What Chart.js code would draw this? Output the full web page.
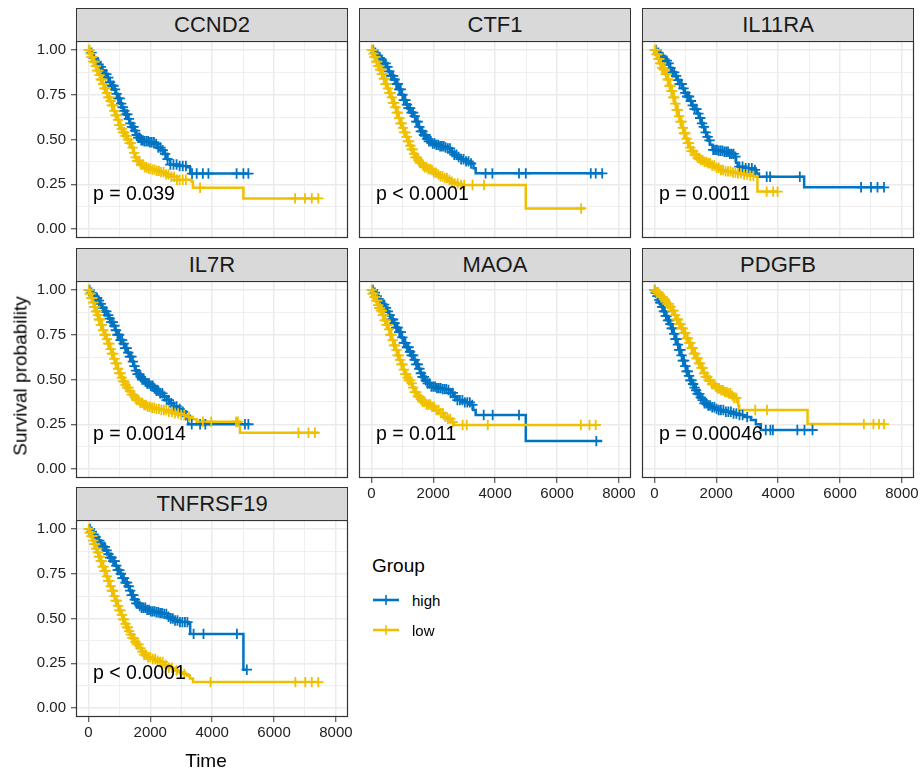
<!DOCTYPE html>
<html>
<head>
<meta charset="utf-8">
<script src="https://cdn.jsdelivr.net/npm/chart.js@4.4.0/dist/chart.umd.min.js"></script>
<style>
  body { margin: 0; background: #fff; font-family: "Liberation Sans", Arial, sans-serif; }
  #wrap { position: relative; width: 921px; height: 773px; overflow: hidden; }
  #wrap canvas { position: absolute; }
  .strip { position: absolute; box-sizing: border-box; width: 272px; height: 34px; border: 1px solid #333;
           background: #D9D9D9; color: #1A1A1A; font-size: 22px; text-align: center; line-height: 32px; }
  .lbl { position: absolute; color: #000; white-space: nowrap; }
</style>
</head>
<body>
<div id="wrap"></div>
<script>
// facet order and log-rank p values
const genes = ['CCND2', 'CTF1', 'IL11RA', 'IL7R', 'MAOA', 'PDGFB', 'TNFRSF19'];
const pValues = ['p = 0.039', 'p < 0.0001', 'p = 0.0011', 'p = 0.0014', 'p = 0.011', 'p = 0.00046', 'p < 0.0001'];

const xMajorTicks = [0, 2000, 4000, 6000, 8000];
const xMinorTicks = [1000, 3000, 5000, 7000];
const yMajorTicks = [0, 0.25, 0.5, 0.75, 1];
const yMinorTicks = [0.125, 0.375, 0.625, 0.875];

// KM curves: [time, survival]
const ccnd2High = [[0,1],[60,0.985],[120,0.97],[180,0.955],[250,0.935],[320,0.92],[380,0.905],[450,0.885],[520,0.865],[600,0.845],[680,0.82],[750,0.80],[820,0.78],[880,0.755],[950,0.73],[1020,0.70],[1080,0.68],[1140,0.66],[1200,0.64],[1270,0.615],[1340,0.59],[1400,0.57],[1470,0.55],[1540,0.525],[1610,0.51],[1680,0.495],[1800,0.49],[1950,0.485],[2150,0.475],[2250,0.455],[2350,0.44],[2430,0.42],[2550,0.39],[2640,0.36],[2900,0.352],[3180,0.345],[3290,0.31],[5170,0.31]];
const ccnd2Low = [[0,1],[50,0.98],[100,0.96],[160,0.935],[220,0.91],[280,0.885],[340,0.86],[400,0.835],[460,0.81],[520,0.785],[580,0.76],[640,0.735],[700,0.715],[760,0.69],[820,0.66],[880,0.635],[940,0.61],[1000,0.58],[1060,0.56],[1120,0.54],[1180,0.52],[1250,0.5],[1320,0.48],[1400,0.455],[1460,0.425],[1510,0.40],[1580,0.38],[1660,0.36],[1780,0.345],[1900,0.338],[2050,0.332],[2200,0.325],[2320,0.318],[2450,0.305],[2640,0.292],[2860,0.275],[3340,0.264],[3380,0.231],[5010,0.171],[7430,0.171]];
const ccnd2HighCensor = [100,180,260,330,400,460,520,580,640,700,760,810,860,910,960,1010,1060,1110,1160,1210,1260,1310,1360,1410,1460,1510,1560,1610,1660,1710,1760,1810,1870,1930,1990,2050,2120,2190,2260,2330,2400,2480,2560,2650,2750,2850,2950,3050,3150,3350,3500,3700,3880,4790,5010,5170];
const ccnd2LowCensor = [10,40,70,100,130,160,200,240,280,320,360,400,440,480,520,560,600,640,680,720,760,800,840,880,920,960,1000,1040,1080,1120,1160,1200,1240,1280,1330,1380,1430,1480,1530,1580,1640,1700,1760,1820,1880,1940,2000,2070,2140,2210,2280,2350,2430,2510,2590,2680,2770,2860,2950,3050,3150,3610,6680,7000,7220,7430];

const ctf1High = [[0,1],[80,0.985],[160,0.97],[240,0.955],[320,0.94],[400,0.925],[480,0.905],[560,0.88],[640,0.855],[720,0.835],[800,0.81],[880,0.78],[960,0.75],[1040,0.72],[1120,0.695],[1200,0.675],[1280,0.65],[1360,0.63],[1440,0.6],[1520,0.57],[1600,0.545],[1680,0.525],[1760,0.505],[1850,0.49],[1930,0.478],[2050,0.47],[2200,0.462],[2350,0.455],[2460,0.45],[2560,0.43],[2680,0.415],[2780,0.402],[2900,0.39],[3050,0.378],[3210,0.366],[3300,0.34],[3370,0.311],[7460,0.311]];
const ctf1Low = [[0,1],[50,0.98],[100,0.96],[160,0.935],[220,0.91],[280,0.89],[340,0.865],[400,0.84],[460,0.81],[520,0.785],[580,0.76],[640,0.735],[700,0.705],[760,0.68],[820,0.65],[880,0.62],[940,0.59],[1000,0.565],[1060,0.54],[1120,0.515],[1180,0.49],[1240,0.465],[1300,0.445],[1360,0.42],[1420,0.4],[1490,0.385],[1560,0.37],[1640,0.355],[1720,0.345],[1820,0.335],[1920,0.33],[2020,0.315],[2120,0.305],[2230,0.295],[2340,0.285],[2460,0.274],[2560,0.265],[2670,0.255],[2800,0.246],[4990,0.115],[6900,0.115]];
const ctf1HighCensor = [60,130,200,270,340,400,460,520,580,640,700,750,800,850,900,950,1000,1050,1100,1150,1200,1250,1300,1350,1400,1450,1500,1550,1600,1650,1700,1750,1800,1860,1920,1980,2040,2100,2160,2220,2280,2340,2400,2470,2540,2610,2680,2750,2820,2900,2980,3060,3140,3220,3690,3910,4770,4990,7090,7250,7460];
const ctf1LowCensor = [10,40,70,100,130,160,190,220,250,280,310,340,370,400,430,460,500,540,580,620,660,700,740,780,820,860,900,940,980,1020,1060,1100,1140,1180,1220,1260,1300,1340,1380,1420,1470,1520,1570,1620,1670,1720,1780,1840,1900,1960,2020,2090,2160,2230,2300,2370,2440,2520,2600,2690,2790,2900,3000,3270,3640,6780];

const il11raHigh = [[0,1],[80,0.985],[160,0.97],[250,0.955],[330,0.94],[420,0.925],[500,0.9],[580,0.875],[660,0.855],[740,0.832],[820,0.81],[900,0.785],[980,0.76],[1060,0.74],[1140,0.715],[1220,0.69],[1300,0.67],[1390,0.645],[1450,0.62],[1510,0.59],[1560,0.57],[1620,0.54],[1680,0.515],[1730,0.495],[1800,0.47],[1880,0.442],[2050,0.437],[2250,0.432],[2420,0.42],[2580,0.404],[2640,0.37],[2690,0.348],[2950,0.34],[3220,0.33],[3300,0.31],[3380,0.292],[4840,0.233],[7420,0.233]];
const il11raLow = [[0,1],[50,0.975],[110,0.95],[170,0.925],[230,0.9],[300,0.89],[360,0.865],[420,0.835],[480,0.8],[540,0.77],[600,0.735],[660,0.7],[720,0.665],[780,0.63],[840,0.6],[900,0.565],[960,0.535],[1020,0.505],[1080,0.48],[1140,0.455],[1200,0.435],[1280,0.415],[1380,0.397],[1480,0.385],[1600,0.375],[1720,0.367],[1850,0.355],[2000,0.342],[2140,0.33],[2300,0.322],[2500,0.316],[2680,0.311],[2900,0.304],[3100,0.297],[3270,0.292],[3330,0.209],[3980,0.209]];
const il11raHighCensor = [60,130,200,270,340,400,460,520,580,640,700,760,820,880,940,1000,1060,1120,1180,1240,1300,1360,1420,1480,1540,1600,1660,1720,1780,1900,1960,2020,2080,2140,2200,2260,2320,2380,2440,2500,2560,2620,2750,2850,2950,3050,3150,3250,3630,3740,4700,6680,7000,7210,7420];
const il11raLowCensor = [10,40,70,100,130,160,190,220,250,280,310,340,370,400,430,460,490,520,550,580,610,640,680,720,760,800,840,880,920,960,1000,1040,1080,1120,1160,1200,1250,1300,1350,1400,1450,1500,1560,1620,1680,1740,1800,1870,1940,2010,2080,2150,2220,2300,2380,2460,2540,2620,2700,2800,2900,3000,3100,3200,3630,3840,3980];

const il7rHigh = [[0,1],[70,0.985],[140,0.97],[220,0.955],[300,0.94],[380,0.922],[450,0.9],[520,0.88],[590,0.86],[660,0.84],[730,0.82],[800,0.8],[870,0.775],[940,0.75],[1020,0.72],[1100,0.7],[1180,0.675],[1260,0.65],[1340,0.628],[1400,0.6],[1460,0.575],[1520,0.55],[1580,0.53],[1660,0.515],[1740,0.5],[1820,0.488],[1900,0.478],[2000,0.465],[2100,0.45],[2200,0.437],[2320,0.423],[2420,0.405],[2530,0.385],[2640,0.367],[2760,0.35],[2880,0.335],[3020,0.32],[3130,0.3],[3230,0.25],[5170,0.25]];
const il7rLow = [[0,1],[40,0.98],[90,0.955],[140,0.93],[190,0.905],[240,0.88],[290,0.86],[340,0.835],[400,0.805],[460,0.775],[520,0.75],[580,0.725],[640,0.7],[700,0.67],[760,0.645],[820,0.615],[880,0.59],[940,0.56],[1000,0.535],[1060,0.51],[1120,0.49],[1180,0.47],[1240,0.455],[1320,0.435],[1400,0.415],[1480,0.4],[1560,0.385],[1660,0.37],[1760,0.358],[1880,0.348],[2020,0.342],[2170,0.336],[2320,0.33],[2530,0.32],[2750,0.311],[2960,0.302],[3180,0.292],[3330,0.278],[3500,0.264],[4900,0.203],[7430,0.203]];
const il7rHighCensor = [40,100,160,220,280,340,400,460,520,580,640,690,740,790,840,890,940,990,1040,1090,1140,1190,1240,1290,1340,1390,1440,1490,1540,1590,1640,1690,1740,1790,1840,1900,1960,2020,2080,2140,2200,2260,2320,2390,2460,2530,2600,2680,2760,2850,2950,3050,3150,3340,3610,3780,5060,5170];
const il7rLowCensor = [10,40,70,100,130,160,190,220,250,280,310,340,370,400,440,480,520,560,600,640,680,720,760,800,840,880,920,960,1000,1040,1080,1120,1160,1200,1250,1300,1350,1400,1450,1500,1560,1620,1680,1740,1800,1860,1920,1990,2060,2130,2200,2280,2360,2440,2520,2600,2700,2800,2900,3000,3100,3250,3700,3970,4770,4830,6790,7110,7320];

const maoaHigh = [[0,1],[70,0.985],[140,0.965],[210,0.95],[280,0.935],[350,0.918],[420,0.9],[490,0.88],[560,0.86],[640,0.835],[720,0.815],[800,0.79],[880,0.765],[960,0.735],[1050,0.705],[1130,0.68],[1210,0.655],[1290,0.635],[1380,0.61],[1450,0.585],[1520,0.56],[1590,0.535],[1650,0.515],[1720,0.495],[1800,0.478],[1920,0.46],[2100,0.452],[2300,0.446],[2460,0.441],[2560,0.425],[2660,0.405],[2780,0.385],[2950,0.372],[3210,0.358],[3290,0.33],[3370,0.302],[4990,0.156],[7460,0.156]];
const maoaLow = [[0,1],[40,0.98],[90,0.96],[140,0.94],[200,0.915],[250,0.9],[300,0.885],[360,0.86],[420,0.83],[480,0.805],[540,0.78],[600,0.75],[660,0.72],[720,0.69],[780,0.665],[840,0.635],[900,0.61],[960,0.585],[1020,0.555],[1080,0.53],[1140,0.51],[1200,0.495],[1270,0.478],[1330,0.455],[1400,0.43],[1480,0.405],[1560,0.39],[1660,0.375],[1780,0.36],[1910,0.348],[2040,0.33],[2180,0.312],[2340,0.292],[2450,0.28],[2560,0.262],[2670,0.246],[7250,0.246]];
const maoaHighCensor = [50,110,170,230,290,350,410,470,530,590,650,700,750,800,850,900,950,1000,1050,1100,1150,1200,1250,1300,1350,1400,1450,1500,1550,1600,1650,1700,1760,1820,1880,1940,2000,2060,2120,2180,2240,2300,2360,2420,2490,2560,2630,2700,2780,2860,2940,3020,3100,3180,3260,3630,3920,4770,7270];
const maoaLowCensor = [10,40,70,100,130,160,190,220,250,280,310,340,370,400,430,460,490,530,570,610,650,690,730,770,810,850,890,930,970,1010,1050,1090,1130,1170,1210,1250,1300,1350,1400,1450,1500,1550,1600,1660,1720,1780,1840,1900,1960,2030,2100,2170,2240,2310,2390,2470,2550,2630,2950,3080,3760,6770,7050,7250];

const pdgfbHigh = [[0,1],[40,0.985],[90,0.965],[140,0.945],[190,0.93],[250,0.905],[310,0.88],[370,0.855],[430,0.83],[490,0.81],[550,0.785],[610,0.755],[670,0.725],[730,0.695],[800,0.665],[860,0.635],[920,0.605],[980,0.575],[1040,0.545],[1100,0.52],[1160,0.495],[1220,0.475],[1280,0.455],[1340,0.44],[1400,0.42],[1470,0.4],[1540,0.385],[1610,0.367],[1700,0.355],[1820,0.345],[1950,0.336],[2040,0.33],[2250,0.32],[2480,0.31],[2690,0.302],[2900,0.29],[3120,0.274],[3280,0.25],[3440,0.218],[5110,0.218]];
const pdgfbLow = [[0,1],[70,0.988],[140,0.975],[210,0.96],[280,0.948],[350,0.935],[420,0.922],[490,0.905],[560,0.885],[640,0.86],[720,0.835],[800,0.81],[880,0.785],[960,0.76],[1040,0.73],[1120,0.705],[1200,0.675],[1280,0.645],[1360,0.618],[1440,0.59],[1520,0.565],[1600,0.535],[1660,0.515],[1740,0.495],[1830,0.475],[1930,0.46],[2040,0.45],[2150,0.44],[2260,0.43],[2360,0.423],[2470,0.41],[2580,0.397],[2680,0.385],[2710,0.355],[2740,0.33],[4950,0.251],[7420,0.251]];
const pdgfbHighCensor = [10,40,70,100,130,160,190,220,250,280,310,340,370,400,440,480,520,560,600,640,680,720,760,800,840,880,920,960,1000,1040,1080,1120,1160,1200,1250,1300,1350,1400,1450,1500,1560,1620,1680,1740,1800,1870,1940,2010,2080,2150,2230,2310,2390,2470,2560,2650,2750,2850,3000,3600,3750,3830,4620,4850,5110];
const pdgfbLowCensor = [20,70,120,170,220,270,320,370,420,470,520,570,620,670,720,760,800,840,880,920,960,1000,1040,1080,1120,1160,1200,1240,1280,1320,1360,1400,1440,1480,1520,1560,1610,1660,1710,1760,1810,1860,1920,1980,2040,2100,2160,2220,2280,2340,2400,2460,2520,2580,2650,3260,3640,6770,7080,7260,7420];

const tnfrsf19High = [[0,1],[70,0.985],[140,0.97],[210,0.955],[290,0.935],[380,0.915],[460,0.9],[540,0.88],[620,0.86],[700,0.84],[780,0.82],[860,0.795],[940,0.77],[1020,0.75],[1100,0.725],[1180,0.7],[1260,0.68],[1340,0.656],[1400,0.63],[1460,0.605],[1530,0.585],[1620,0.57],[1720,0.56],[1850,0.548],[2000,0.54],[2150,0.535],[2300,0.53],[2430,0.526],[2550,0.51],[2650,0.5],[2750,0.489],[2950,0.48],[3230,0.47],[3290,0.414],[5010,0.214],[5120,0.214]];
const tnfrsf19Low = [[0,1],[40,0.98],[90,0.96],[140,0.935],[190,0.915],[240,0.89],[290,0.87],[340,0.845],[400,0.82],[460,0.79],[520,0.765],[580,0.735],[640,0.71],[700,0.68],[760,0.655],[820,0.625],[880,0.6],[940,0.57],[1000,0.545],[1060,0.52],[1120,0.495],[1180,0.47],[1240,0.45],[1300,0.43],[1360,0.41],[1420,0.39],[1490,0.37],[1560,0.355],[1640,0.335],[1720,0.315],[1800,0.298],[1890,0.284],[2030,0.274],[2180,0.265],[2320,0.257],[2460,0.24],[2600,0.225],[2750,0.21],[2900,0.2],[3040,0.19],[3180,0.182],[3280,0.165],[3380,0.145],[7430,0.145]];
const tnfrsf19HighCensor = [50,110,170,230,290,350,410,470,530,590,650,700,750,800,850,900,950,1000,1050,1100,1150,1200,1250,1300,1350,1400,1450,1500,1550,1600,1660,1720,1780,1840,1900,1960,2020,2080,2140,2200,2260,2320,2380,2450,2520,2590,2660,2730,2800,2880,2960,3040,3120,3200,3400,3720,4800,5120];
const tnfrsf19LowCensor = [10,40,70,100,130,160,190,220,250,280,310,340,370,400,430,460,490,520,560,600,640,680,720,760,800,840,880,920,960,1000,1040,1080,1120,1160,1200,1240,1280,1320,1370,1420,1470,1520,1570,1620,1680,1740,1800,1860,1930,2000,2080,2160,2240,2320,2400,2500,2600,2700,2850,3000,3100,3950,6690,7010,7220,7430];

const highCurves = [ccnd2High, ctf1High, il11raHigh, il7rHigh, maoaHigh, pdgfbHigh, tnfrsf19High];
const lowCurves = [ccnd2Low, ctf1Low, il11raLow, il7rLow, maoaLow, pdgfbLow, tnfrsf19Low];
const highCensors = [ccnd2HighCensor, ctf1HighCensor, il11raHighCensor, il7rHighCensor, maoaHighCensor, pdgfbHighCensor, tnfrsf19HighCensor];
const lowCensors = [ccnd2LowCensor, ctf1LowCensor, il11raLowCensor, il7rLowCensor, maoaLowCensor, pdgfbLowCensor, tnfrsf19LowCensor];

const highColor = '#0073C2';
const lowColor = '#EFC000';
const FONT = '"Liberation Sans", Arial, sans-serif';

// layout of the facet grid
const colLeft = [76, 359, 642];
const plotTop = [41, 281, 520];
const panelW = 272, panelH = 197;
const axisW = 70, axisH = 30, padTop = 20, padRight = 15;

const wrap = document.getElementById('wrap');

function survAt(curve, t) {
  let s = 1;
  curve.forEach(p => { if (p[0] <= t) s = p[1]; });
  return s;
}

const panelDeco = {
  id: 'panelDeco',
  afterDatasetsDraw(chart, args, opts) {
    const { ctx, chartArea: a, scales } = chart;
    ctx.save();
    ctx.font = '19.5px ' + FONT;
    ctx.fillStyle = '#000';
    ctx.textBaseline = 'middle';
    ctx.textAlign = 'left';
    ctx.fillText(opts.label, scales.x.getPixelForValue(150), scales.y.getPixelForValue(0.19));
    ctx.strokeStyle = '#333';
    ctx.lineWidth = 1.2;
    ctx.strokeRect(a.left + 0.5, a.top + 0.5, a.width - 1, a.height - 1);
    ctx.restore();
  }
};

genes.forEach((gene, i) => {
  const row = Math.floor(i / 3), col = i % 3;
  const showX = i + 3 >= genes.length;
  const showY = col === 0;

  const canvas = document.createElement('canvas');
  canvas.width = axisW + panelW + padRight;
  canvas.height = padTop + panelH + axisH;
  canvas.style.left = (colLeft[col] - axisW) + 'px';
  canvas.style.top = (plotTop[row] - padTop) + 'px';
  wrap.appendChild(canvas);

  const strip = document.createElement('div');
  strip.className = 'strip';
  strip.style.left = colLeft[col] + 'px';
  strip.style.top = (plotTop[row] - 33) + 'px';
  strip.textContent = gene;
  wrap.appendChild(strip);

  const hi = highCurves[i], lo = lowCurves[i];
  const toXY = c => c.map(p => ({ x: p[0], y: p[1] }));
  const cens = (curve, times) => times.map(t => ({ x: t, y: survAt(curve, t) }));

  new Chart(canvas, {
    data: {
      datasets: [
        { type: 'scatter', data: cens(lo, lowCensors[i]), pointStyle: 'cross', pointRadius: 5.2,
          borderColor: lowColor, borderWidth: 1.8 },
        { type: 'scatter', data: cens(hi, highCensors[i]), pointStyle: 'cross', pointRadius: 5.2,
          borderColor: highColor, borderWidth: 1.8 },
        { type: 'line', data: toXY(lo), stepped: true, borderColor: lowColor, borderWidth: 2.5,
          pointRadius: 0, fill: false },
        { type: 'line', data: toXY(hi), stepped: true, borderColor: highColor, borderWidth: 2.5,
          pointRadius: 0, fill: false }
      ]
    },
    options: {
      responsive: false,
      animation: false,
      devicePixelRatio: 1,
      layout: { padding: { left: 0, top: padTop, right: padRight, bottom: 0 } },
      plugins: { legend: { display: false }, tooltip: { enabled: false }, panelDeco: { label: pValues[i] } },
      scales: {
        x: {
          type: 'linear', min: -400, max: 8390,
          afterBuildTicks: s => { s.ticks = xMajorTicks.concat(xMinorTicks).sort((a, b) => a - b).map(v => ({ value: v })); },
          afterFit: s => { s.height = axisH; },
          border: { display: false },
          grid: {
            color: '#EBEBEB',
            lineWidth: c => xMajorTicks.includes(c.tick.value) ? 1.5 : 0.8,
            drawTicks: showX, tickLength: 5, tickWidth: 1,
            tickColor: c => xMajorTicks.includes(c.tick.value) ? '#333' : 'rgba(0,0,0,0)'
          },
          ticks: {
            display: showX, autoSkip: false, maxRotation: 0, padding: 2, color: '#222',
            font: { family: FONT, size: 15 },
            callback: v => xMajorTicks.includes(v) ? String(v) : ''
          }
        },
        y: {
          type: 'linear', min: -0.05, max: 1.05,
          afterBuildTicks: s => { s.ticks = yMajorTicks.concat(yMinorTicks).sort((a, b) => a - b).map(v => ({ value: v })); },
          afterFit: s => { s.width = axisW; },
          border: { display: false },
          grid: {
            color: '#EBEBEB',
            lineWidth: c => yMajorTicks.includes(c.tick.value) ? 1.5 : 0.8,
            drawTicks: showY, tickLength: 5, tickWidth: 1,
            tickColor: c => yMajorTicks.includes(c.tick.value) ? '#333' : 'rgba(0,0,0,0)'
          },
          ticks: {
            display: showY, autoSkip: false, padding: 5, color: '#222',
            font: { family: FONT, size: 15 },
            callback: v => yMajorTicks.includes(v) ? v.toFixed(2) : ''
          }
        }
      }
    },
    plugins: [panelDeco]
  });
});

// axis titles and legend
function addLabel(text, left, top, size, extra) {
  const d = document.createElement('div');
  d.className = 'lbl';
  d.textContent = text;
  d.style.left = left + 'px';
  d.style.top = top + 'px';
  d.style.fontSize = size + 'px';
  d.style.lineHeight = '1';
  if (extra) d.style.transform = extra;
  wrap.appendChild(d);
  return d;
}
addLabel('Time', 206, 760, 19, 'translate(-50%, -50%)');
addLabel('Survival probability', 20, 376, 19, 'translate(-50%, -50%) rotate(-90deg)');
addLabel('Group', 372, 565, 19, 'translateY(-50%)');

const legendItems = ['high', 'low'];
const legendColors = [highColor, lowColor];
legendItems.forEach((name, k) => {
  const y = 600 + k * 30;
  const svg = document.createElementNS('http://www.w3.org/2000/svg', 'svg');
  svg.setAttribute('width', '28');
  svg.setAttribute('height', '14');
  svg.style.position = 'absolute';
  svg.style.left = '372px';
  svg.style.top = (y - 7) + 'px';
  svg.innerHTML = '<line x1="1" y1="7" x2="27" y2="7" stroke="' + legendColors[k] + '" stroke-width="2.6"/>' +
                  '<line x1="14" y1="2" x2="14" y2="12" stroke="' + legendColors[k] + '" stroke-width="1.6"/>';
  wrap.appendChild(svg);
  addLabel(name, 412, y, 15, 'translateY(-50%)');
});
</script>
</body>
</html>
